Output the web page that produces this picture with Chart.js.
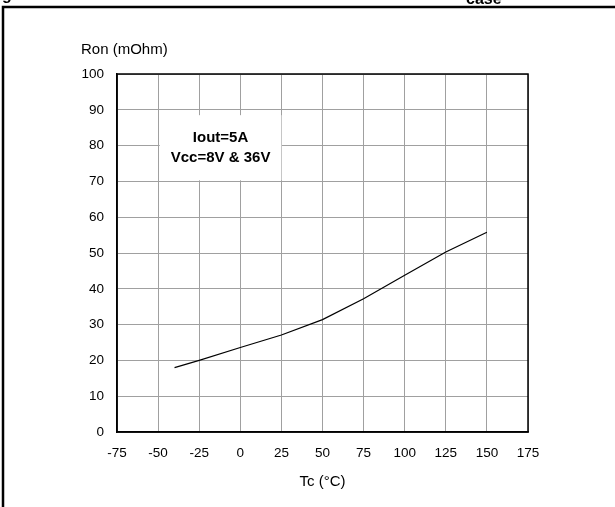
<!DOCTYPE html>
<html>
<head>
<meta charset="utf-8">
<script src="https://cdn.jsdelivr.net/npm/chart.js@4.4.1/dist/chart.umd.min.js"></script>
<style>
  html, body { margin: 0; padding: 0; background: #fff; }
  canvas { display: block; }
</style>
</head>
<body>
<canvas id="ronChart" width="615" height="507"></canvas>
<script>
// Ron vs case temperature
const temps = [-40, -25, 0, 25, 50, 75, 100, 125, 150];
const ron = [18, 20, 23.6, 27.1, 31.4, 37.2, 43.8, 50.3, 55.8];

const xTicks = { min: -75, max: 175, step: 25 };
const yTicks = { min: 0, max: 100, step: 10 };

const noteLines = ["Iout=5A", "Vcc=8V & 36V"];

const FONT = "'Liberation Sans', Arial, sans-serif";

const decorations = {
  id: "decorations",
  beforeDatasetsDraw(chart) {
    // white label box over the grid
    const { ctx, scales: { x, y } } = chart;
    const l = x.getPixelForValue(-49), r = x.getPixelForValue(25);
    const t = y.getPixelForValue(88.5), b = y.getPixelForValue(70.3);
    ctx.save();
    ctx.fillStyle = "#fff";
    ctx.fillRect(l, t, r - l, b - t);
    ctx.fillStyle = "#000";
    ctx.font = "bold 15px " + FONT;
    ctx.textAlign = "center";
    ctx.textBaseline = "middle";
    const cx = (l + r) / 2;
    ctx.fillText(noteLines[0], cx, 138);
    ctx.fillText(noteLines[1], cx, 158);
    ctx.restore();
  },
  afterDraw(chart) {
    const { ctx, chartArea: a } = chart;
    ctx.save();
    // plot frame
    ctx.strokeStyle = "#000";
    ctx.lineWidth = 1.5;
    ctx.strokeRect(a.left, a.top, a.right - a.left, a.bottom - a.top);
    // axis titles
    ctx.fillStyle = "#000";
    ctx.font = "15px " + FONT;
    ctx.textBaseline = "middle";
    ctx.textAlign = "left";
    ctx.fillText("Ron (mOhm)", 81, 50);
    ctx.textAlign = "center";
    ctx.fillText("Tc (°C)", (a.left + a.right) / 2, 482);
    // outer figure frame
    ctx.lineWidth = 2.5;
    ctx.beginPath();
    ctx.moveTo(3, 507);
    ctx.lineTo(3, 7);
    ctx.lineTo(615, 7);
    ctx.stroke();
    // clipped figure title
    ctx.font = "bold 16px " + FONT;
    ctx.textAlign = "left";
    ctx.textBaseline = "alphabetic";
    ctx.fillText("g", 2, 0);
    ctx.fillText("case", 466, 4);
    ctx.restore();
  }
};

new Chart(document.getElementById("ronChart").getContext("2d"), {
  type: "scatter",
  data: {
    datasets: [{
      data: temps.map((t, i) => ({ x: t, y: ron[i] })),
      showLine: true,
      borderColor: "#000",
      borderWidth: 1.2,
      pointRadius: 0,
      tension: 0
    }]
  },
  options: {
    responsive: false,
    animation: false,
    layout: { padding: { top: 74, right: 87, bottom: 0, left: 0 } },
    plugins: { legend: { display: false }, tooltip: { enabled: false } },
    scales: {
      x: {
        type: "linear",
        min: xTicks.min,
        max: xTicks.max,
        afterFit(scale) { scale.height = 75; },
        ticks: {
          stepSize: xTicks.step,
          color: "#000",
          padding: 13,
          font: { family: FONT, size: 13.5 }
        },
        grid: { color: "#a0a0a0", lineWidth: 1, drawTicks: false },
        border: { color: "#000", width: 1.5 }
      },
      y: {
        min: yTicks.min,
        max: yTicks.max,
        afterFit(scale) { scale.width = 117; },
        ticks: {
          stepSize: yTicks.step,
          color: "#000",
          padding: 13,
          font: { family: FONT, size: 13.5 }
        },
        grid: { color: "#a0a0a0", lineWidth: 1, drawTicks: false },
        border: { color: "#000", width: 1.5 }
      }
    }
  },
  plugins: [decorations]
});
</script>
</body>
</html>
